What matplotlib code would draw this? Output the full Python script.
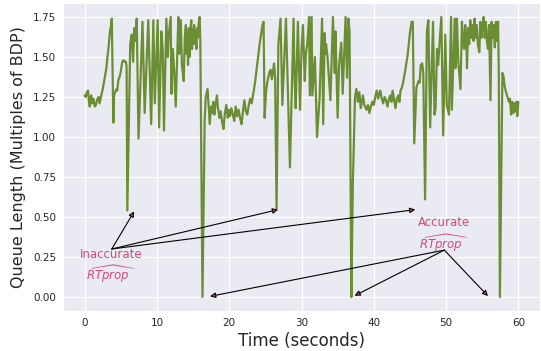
import matplotlib
matplotlib.use("Agg")
import matplotlib.pyplot as plt
import seaborn as sns

# time (s) and queue length (multiples of BDP)
time = [
    0.0, 0.15, 0.3, 0.46, 0.6, 0.7, 0.8, 0.9, 1.05, 1.2, 1.4, 1.55, 1.7, 1.9, 2.05, 2.2, 2.3, 2.5, 2.7, 2.85,
    3.0, 3.15, 3.3, 3.5, 3.6, 3.75, 3.97, 4.07, 4.2, 4.4, 4.5, 4.67, 4.8, 5.0, 5.2, 5.4, 5.55, 5.7, 5.8, 5.9,
    6.3, 6.5, 6.7, 6.85, 7.0, 7.2, 7.45, 8.0, 8.3, 8.55, 8.8, 9.2, 9.5, 9.7, 10.1, 10.3, 10.6, 10.8, 10.97, 11.3,
    11.5, 11.6, 11.9, 12.0, 12.2, 12.4, 12.6, 12.96, 13.1, 13.3, 13.45, 13.7, 13.85, 14.0, 14.1, 14.2, 14.3, 14.4, 14.5, 14.6,
    14.75, 14.85, 14.95, 15.05, 15.15, 15.25, 15.35, 15.45, 15.55, 15.65, 15.75, 15.9, 16.0, 16.3, 16.6, 16.75, 17.0, 17.15, 17.3, 17.5,
    17.65, 17.8, 17.95, 18.1, 18.3, 18.45, 18.65, 18.8, 19.0, 19.2, 19.4, 19.6, 19.8, 19.95, 20.1, 20.3, 20.5, 20.7, 20.9, 21.1,
    21.3, 21.5, 21.7, 21.9, 22.1, 22.3, 22.5, 22.7, 22.9, 23.1, 23.4, 23.6, 23.75, 24.0, 24.2, 24.4, 24.6, 24.75, 24.9, 25.1,
    25.3, 25.6, 25.75, 25.9, 26.2, 26.35, 26.55, 26.8, 27.1, 27.35, 27.85, 28.4, 28.9, 29.05, 29.2, 29.5, 29.8, 30.0, 30.2, 30.45,
    30.6, 30.8, 31.05, 31.15, 31.4, 31.5, 31.85, 32.15, 32.5, 32.85, 33.0, 33.2, 33.3, 33.4, 33.6, 34.0, 34.35, 34.6, 34.7, 35.0,
    35.2, 35.5, 35.7, 36.1, 36.3, 36.5, 36.65, 36.9, 37.1, 37.4, 37.6, 37.8, 38.0, 38.2, 38.5, 38.7, 39.0, 39.2, 39.4, 39.6,
    39.8, 40.0, 40.2, 40.4, 40.6, 40.75, 40.9, 41.1, 41.3, 41.5, 41.7, 41.9, 42.1, 42.3, 42.45, 42.6, 42.8, 43.0, 43.2, 43.4,
    43.55, 43.7, 43.9, 44.1, 44.3, 44.5, 44.65, 44.8, 45.0, 45.1, 45.25, 45.4, 45.6, 45.9, 46.05, 46.2, 46.35, 46.5, 46.7, 46.85,
    47.1, 47.35, 47.55, 47.8, 48.2, 48.4, 48.55, 48.75, 48.9, 49.35, 49.6, 49.9, 50.1, 50.4, 50.7, 50.8, 51.2, 51.3, 51.5, 51.7,
    52.0, 52.2, 52.35, 52.5, 52.65, 52.8, 52.9, 53.05, 53.2, 53.35, 53.5, 53.65, 53.8, 53.95, 54.1, 54.25, 54.4, 54.6, 54.75, 54.9,
    55.05, 55.2, 55.35, 55.5, 55.65, 55.8, 55.95, 56.15, 56.3, 56.45, 56.6, 56.75, 56.9, 57.05, 57.2, 57.3, 57.45, 57.8, 57.95, 58.1,
    58.3, 58.5, 58.7, 58.85, 59.0, 59.15, 59.3, 59.45, 59.6, 59.75, 59.85, 60.0,
]
queue = [
    1.26, 1.25, 1.28, 1.29, 1.22, 1.19, 1.24, 1.26, 1.21, 1.24, 1.19, 1.20, 1.23, 1.25, 1.21, 1.24, 1.26, 1.30, 1.35, 1.39,
    1.43, 1.50, 1.56, 1.66, 1.68, 1.74, 1.09, 1.26, 1.28, 1.30, 1.29, 1.36, 1.37, 1.41, 1.47, 1.48, 1.47, 1.47, 1.44, 0.54,
    1.58, 1.64, 1.47, 1.68, 1.60, 1.74, 0.99, 1.72, 1.15, 1.45, 1.73, 1.08, 1.73, 1.21, 1.73, 1.06, 1.66, 1.55, 1.04, 1.74,
    1.50, 1.62, 1.75, 1.27, 1.55, 1.40, 1.19, 1.75, 1.52, 1.73, 1.45, 1.35, 1.62, 1.70, 1.52, 1.64, 1.45, 1.68, 1.50, 1.66,
    1.73, 1.55, 1.67, 1.58, 1.70, 1.60, 1.66, 1.55, 1.68, 1.62, 1.70, 1.75, 1.60, 0.00, 1.10, 1.25, 1.30, 1.20, 1.08, 1.19,
    1.15, 1.22, 1.14, 1.20, 1.26, 1.18, 1.12, 1.16, 1.10, 1.05, 1.15, 1.20, 1.12, 1.17, 1.13, 1.18, 1.14, 1.10, 1.19, 1.13,
    1.17, 1.12, 1.08, 1.16, 1.23, 1.16, 1.14, 1.20, 1.24, 1.21, 1.29, 1.35, 1.41, 1.50, 1.58, 1.64, 1.70, 1.72, 1.12, 1.29,
    1.35, 1.41, 1.42, 1.36, 1.46, 1.37, 0.55, 1.58, 1.74, 1.20, 1.74, 0.81, 1.74, 1.35, 1.18, 1.72, 1.17, 1.54, 1.70, 1.35,
    1.52, 1.58, 1.75, 1.26, 1.75, 1.26, 1.50, 1.00, 1.24, 1.74, 1.08, 1.65, 1.52, 1.58, 1.50, 1.23, 1.75, 1.40, 1.66, 1.12,
    1.45, 1.59, 1.27, 1.75, 1.37, 1.74, 1.66, 0.00, 0.70, 1.25, 1.30, 1.22, 1.28, 1.18, 1.26, 1.20, 1.17, 1.20, 1.15, 1.19,
    1.22, 1.20, 1.25, 1.29, 1.24, 1.27, 1.29, 1.24, 1.21, 1.25, 1.23, 1.19, 1.24, 1.26, 1.22, 1.29, 1.24, 1.18, 1.24, 1.26,
    1.22, 1.29, 1.31, 1.35, 1.40, 1.46, 1.50, 1.56, 1.65, 1.68, 1.72, 1.72, 0.96, 1.31, 1.33, 1.35, 1.34, 1.45, 1.46, 1.40,
    0.61, 1.66, 1.73, 1.06, 1.72, 1.14, 1.18, 1.55, 1.45, 1.75, 1.01, 1.64, 1.20, 1.14, 1.75, 1.17, 1.74, 1.43, 1.74, 1.47,
    1.30, 1.72, 1.60, 1.55, 1.70, 1.60, 1.43, 1.68, 1.58, 1.73, 1.62, 1.70, 1.60, 1.74, 1.62, 1.70, 1.58, 1.53, 1.72, 1.62,
    1.70, 1.75, 1.62, 1.72, 1.60, 1.55, 1.70, 1.23, 1.72, 1.62, 1.70, 1.56, 1.72, 1.60, 1.72, 1.40, 0.00, 1.40, 1.38, 1.32,
    1.28, 1.25, 1.22, 1.24, 1.14, 1.22, 1.15, 1.21, 1.16, 1.22, 1.13, 1.22,
]

x_ticks = [0, 10, 20, 30, 40, 50, 60]
y_ticks = [0.00, 0.25, 0.50, 0.75, 1.00, 1.25, 1.50, 1.75]

# annotation anchors (data coordinates)
inacc_label = (3.7, 0.266)
inacc_rt = (3.7, 0.143)
inacc_origin = (3.75, 0.30)
inacc_targets = [(6.85, 0.535), (26.75, 0.546), (45.74, 0.546)]
acc_label = (49.76, 0.463)
acc_rt = (49.76, 0.338)
acc_origin = (49.76, 0.293)
acc_targets = [(17.35, 0.004), (37.35, 0.008), (55.8, 0.006)]

sns.set_style("darkgrid")
plt.rcParams['font.family'] = ['DejaVu Sans']

fig = plt.figure(figsize=(5.41, 3.51), dpi=100)
ax = fig.add_axes([63 / 541, 1 - 311 / 351, (540 - 63) / 541, (311 - 3) / 351])

ax.plot(time, queue, color="#6b8e35", lw=1.6)

ax.set_xticks(x_ticks)
ax.set_yticks(y_ticks)
ax.set_yticklabels([f"{v:.2f}" for v in y_ticks])
ax.tick_params(labelsize=7.5, colors="#262626", length=0, pad=5)
ax.set_xlim(-3, 63)
ax.set_ylim(-0.0875, 1.8375)
ax.set_xlabel("Time (seconds)", fontsize=12, color="#262626", labelpad=3)
ax.set_ylabel("Queue Length (Multiples of BDP)", fontsize=11.5, color="#262626", labelpad=5)

pink = "#d6497b"
ax.text(*inacc_label, "Inaccurate", color=pink, ha="center", va="center", fontsize=8.5)
ax.text(*inacc_rt, r"$\widehat{RTprop}$", color=pink, ha="center", va="center", fontsize=8.5)
ax.text(*acc_label, "Accurate", color=pink, ha="center", va="center", fontsize=8.5)
ax.text(*acc_rt, r"$\widehat{RTprop}$", color=pink, ha="center", va="center", fontsize=8.5)

aprops = dict(arrowstyle="-|>", fc=pink, ec="black", lw=0.8, mutation_scale=8,
              shrinkA=0, shrinkB=0)
for tgt in inacc_targets:
    ax.annotate("", xy=tgt, xytext=inacc_origin, arrowprops=aprops)
for tgt in acc_targets:
    ax.annotate("", xy=tgt, xytext=acc_origin, arrowprops=aprops)

fig.savefig("out.png", dpi=100)
